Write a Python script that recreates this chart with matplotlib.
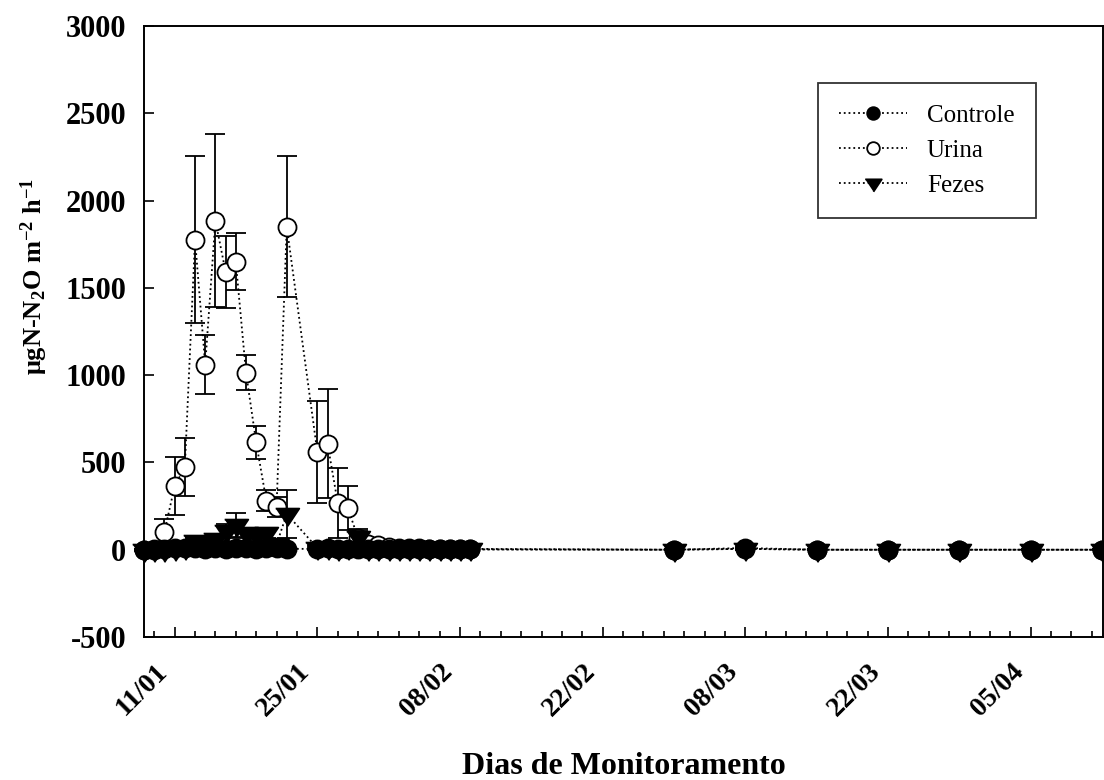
import numpy as np
import matplotlib
matplotlib.use("Agg")
import matplotlib.pyplot as plt
import matplotlib.transforms as mtrans

plt.rcParams['font.family'] = ['Liberation Serif', 'DejaVu Serif']
plt.rcParams['mathtext.default'] = 'regular'
plt.rcParams['axes.unicode_minus'] = False

# dias contados a partir de 11/01
dias = [-3, -2, -1, 0, 1, 2, 3, 4, 5, 6, 7, 8, 9, 10, 11,
        14, 15, 16, 17, 18, 19, 20, 21, 22, 23, 24, 25, 26, 27, 28, 29,
        49, 56, 63, 70, 77, 84, 91]

controle = [0, 0, 5, 10, 8, 10, 5, 8, 6, 10, 8, 5, 10, 8, 5,
            5, 8, 3, 5, 5, 3, 3, 2, 2, 2, 2, 2, 2, 2, 2, 2,
            0, 10, 0, 0, 0, 0, 0]
controle_err = [3, 3, 3, 5, 5, 5, 3, 5, 3, 5, 5, 3, 5, 5, 3,
                3, 5, 3, 3, 3, 2, 2, 2, 2, 2, 2, 2, 2, 2, 2, 2,
                2, 5, 2, 2, 2, 2, 2]

urina = [0, 5, 102, 364, 475, 1776, 1060, 1885, 1592, 1649, 1015, 615, 280, 245, 1851,
         560, 608, 270, 240, 65, 35, 25, 15, 10, 8, 8, 6, 6, 5, 5, 5,
         0, 5, 0, 0, 0, 0, 0]
urina_err = [5, 5, 75, 166, 167, 478, 170, 494, 206, 163, 98, 95, 60, 55, 402,
             292, 310, 200, 125, 55, 20, 15, 10, 5, 5, 5, 5, 5, 5, 5, 5,
             3, 5, 3, 3, 3, 3, 3]

fezes = [0, 0, 0, 5, 10, 48, 40, 62, 105, 142, 95, 85, 96, 30, 205,
         10, 10, 5, 10, 75, 5, 5, 3, 3, 3, 3, 2, 2, 2, 2, 2,
         0, 5, 0, 0, 0, 0, 0]
fezes_err = [3, 3, 3, 5, 10, 20, 20, 25, 40, 68, 30, 25, 30, 20, 135,
             10, 10, 5, 10, 35, 5, 5, 3, 3, 3, 3, 2, 2, 2, 2, 2,
             3, 5, 3, 3, 3, 3, 3]

tick_dias = [0, 14, 28, 42, 56, 70, 84]
tick_labels = ['11/01', '25/01', '08/02', '22/02', '08/03', '22/03', '05/04']

# triangulo centrado no baricentro
tri = [(-1, 0.5), (1, 0.5), (0, -1)]

fig = plt.figure(figsize=(11.04, 7.8), dpi=100)
ax = fig.add_axes([0.1305, 0.1833, 0.8686, 0.7834])

kw = dict(color='k', ls=':', lw=1.3, capsize=7, elinewidth=1.3,
          capthick=1.3, mec='k', mew=1.3)
u = ax.errorbar(dias, urina, yerr=urina_err, fmt='o', ms=13, mfc='white', zorder=2, **kw)
c = ax.errorbar(dias, controle, yerr=controle_err, fmt='o', ms=13, mfc='k', zorder=3, **kw)
f = ax.errorbar(dias, fezes, yerr=fezes_err, marker=tri, ms=17, mfc='k', zorder=4, **kw)
for cont in (u, c, f):
    for art in cont.get_children():
        art.set_clip_on(False)

ax.set_xlim(-3, 91.1)
ax.set_ylim(-500, 3000)
ax.set_yticks(np.arange(-500, 3001, 500))
ax.set_xticks(tick_dias)
ax.set_xticks(np.arange(-2, 91, 2), minor=True)
ax.set_xticklabels([])

shift = mtrans.ScaledTranslation(-20 / 100, -22 / 100, fig.dpi_scale_trans)
for d, lab in zip(tick_dias, tick_labels):
    ax.text(d, 0, lab, transform=ax.get_xaxis_transform() + shift,
            rotation=45, ha='right', va='top', rotation_mode='anchor',
            fontsize=20, fontweight='bold')

for lab in ax.get_yticklabels():
    lab.set_fontweight('bold')
    lab.set_fontsize(22)

ax.tick_params(axis='x', which='major', direction='in', length=7, width=1.2)
ax.tick_params(axis='x', which='minor', direction='in', length=4, width=1.2)
ax.tick_params(axis='y', which='major', direction='in', length=7, width=1.2, pad=13)
for sp in ax.spines.values():
    sp.set_linewidth(1.4)

fig.text(0.031, 0.645, r'μgN-N$_2$O m$^{-2}$ h$^{-1}$', rotation=90,
         ha='center', va='center', fontsize=19, fontweight='bold')
fig.text(0.5654, 0.017, 'Dias de Monitoramento', ha='center', va='center',
         fontsize=23, fontweight='bold')

leg = ax.legend([c[0], u[0], f[0]], ['Controle', 'Urina', 'Fezes'],
                loc='upper left', bbox_to_anchor=(0.703, 0.907), borderaxespad=0,
                fancybox=False, edgecolor='k', fontsize=18, handlelength=2.7,
                markerscale=0.7, labelspacing=0.5, borderpad=0.85, handletextpad=0.8)
leg.get_frame().set_linewidth(1.3)

fig.savefig('out.png', dpi=100)
